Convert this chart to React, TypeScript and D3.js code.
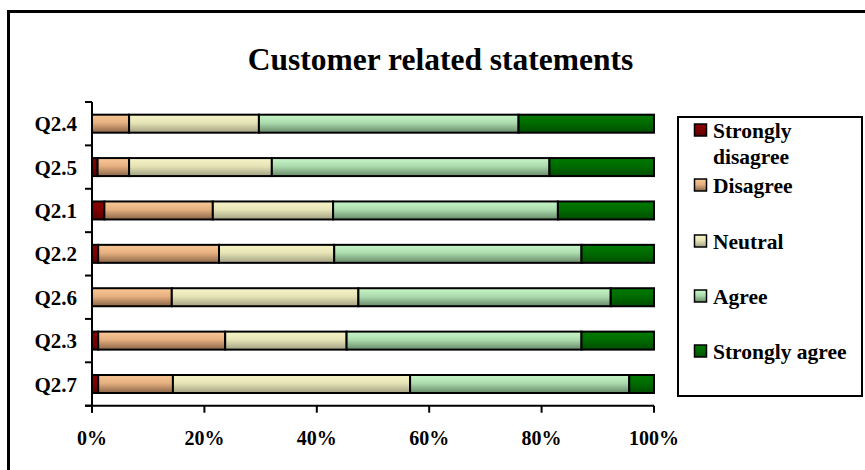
import React from "react";
import * as d3 from "d3";

const categories = ["Q2.4", "Q2.5", "Q2.1", "Q2.2", "Q2.6", "Q2.3", "Q2.7"];
const seriesNames = ["Strongly disagree", "Disagree", "Neutral", "Agree", "Strongly agree"];
const stronglyDisagree = [0, 1.0, 2.2, 1.1, 0, 1.1, 1.1];
const disagree = [6.6, 5.6, 19.3, 21.5, 14.2, 22.6, 13.3];
const neutral = [23.1, 25.4, 21.4, 20.5, 33.2, 21.6, 42.2];
const agree = [46.2, 49.4, 40.0, 44.0, 44.9, 41.8, 39.0];
const stronglyAgree = [24.1, 18.6, 17.1, 12.9, 7.7, 12.9, 4.4];
const xTicks = [0, 20, 40, 60, 80, 100];
const title = "Customer related statements";

const seriesValues = [stronglyDisagree, disagree, neutral, agree, stronglyAgree];
const gradients = [
  { id: "g0", top: "#8a0000", mid: "#800000", bot: "#5a0000" },
  { id: "g1", top: "#f9c896", mid: "#e6b080", bot: "#8a6548" },
  { id: "g2", top: "#f8f6c8", mid: "#e6e4b6", bot: "#a2a082" },
  { id: "g3", top: "#c8f6c8", mid: "#acdcae", bot: "#668868" },
  { id: "g4", top: "#007a00", mid: "#006c00", bot: "#004c00" },
];

const FONT = "'Liberation Serif', 'Times New Roman', serif";

export default function App() {
  const W = 865, H = 470;
  const x0 = 92, x1 = 654, y0 = 102, y1 = 405.7;
  const x = d3.scaleLinear().domain([0, 100]).range([x0, x1]);
  const y = d3.scaleBand<string>().domain(categories).range([y0, y1]).paddingInner(0.585).paddingOuter(0.2925);
  const step = (y1 - y0) / categories.length;

  const table = categories.map((c, i) => {
    const row: any = { cat: c };
    seriesNames.forEach((s, k) => (row[s] = seriesValues[k][i]));
    return row;
  });
  const stacked = d3.stack<any>().keys(seriesNames)(table);

  const bandTicks = d3.range(categories.length + 1).map((i) => y0 + i * step);

  const legendRows = [138, 193, 249, 304, 359];

  return (
    <svg width={W} height={H} style={{ position: "absolute", left: 0, top: 0, background: "#fff" }} fontFamily={FONT} fontWeight="bold">
      <defs>
        {gradients.map((g) => (
          <linearGradient key={g.id} id={g.id} x1="0" y1="0" x2="0" y2="1">
            <stop offset="0%" stopColor={g.top} />
            <stop offset="45%" stopColor={g.mid} />
            <stop offset="100%" stopColor={g.bot} />
          </linearGradient>
        ))}
      </defs>
      <rect x={0} y={0} width={W} height={H} fill="#fff" />
      <path d={`M8.5,${H} V11.5 H${W}`} fill="none" stroke="#000" strokeWidth={3} />

      <text x={440.5} y={70} textAnchor="middle" fontSize={31.5}>{title}</text>

      {stacked.map((layer, k) => (
        <g key={layer.key}>
          {layer.map((d, i) =>
            d[1] - d[0] > 0 ? (
              <rect
                key={i}
                x={x(d[0])}
                y={y(categories[i])}
                width={x(d[1]) - x(d[0])}
                height={y.bandwidth()}
                fill={`url(#g${k})`}
                stroke="#000"
                strokeWidth={2}
              />
            ) : null
          )}
        </g>
      ))}

      <line x1={x0} x2={x0} y1={y0} y2={y1 + 7} stroke="#000" strokeWidth={2} />
      <line x1={x0 - 7} x2={x1} y1={y1} y2={y1} stroke="#000" strokeWidth={2} />
      {bandTicks.map((t, i) => (
        <line key={i} x1={x0 - 7} x2={x0} y1={t} y2={t} stroke="#000" strokeWidth={2} />
      ))}
      {xTicks.map((t) => (
        <g key={t}>
          <line x1={x(t)} x2={x(t)} y1={y1} y2={y1 + 7} stroke="#000" strokeWidth={2} />
          <text x={x(t)} y={445} textAnchor="middle" fontSize={20}>{`${t}%`}</text>
        </g>
      ))}
      {categories.map((c) => (
        <text key={c} x={77} y={(y(c) as number) + y.bandwidth() / 2 + 7.5} textAnchor="end" fontSize={21}>{c}</text>
      ))}

      <rect x={678} y={117} width={184} height={279} fill="#fff" stroke="#000" strokeWidth={2} />
      {seriesNames.map((s, k) => {
        const by = legendRows[k];
        const lines = k === 0 ? ["Strongly", "disagree"] : [s];
        return (
          <g key={s}>
            <rect x={694.5} y={by - 14} width={12} height={12} fill={`url(#g${k})`} stroke="#000" strokeWidth={1.5} />
            {lines.map((ln, j) => (
              <text key={j} x={713} y={by + j * 26} fontSize={21.5}>{ln}</text>
            ))}
          </g>
        );
      })}
    </svg>
  );
}
